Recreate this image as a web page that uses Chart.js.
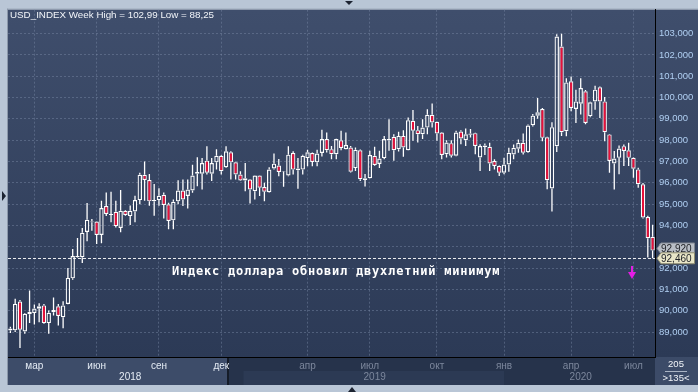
<!DOCTYPE html>
<html>
<head>
<meta charset="utf-8">
<script src="https://cdn.jsdelivr.net/npm/chart.js@4.4.1/dist/chart.umd.min.js"></script>
<style>
  html, body { margin: 0; padding: 0; background: #b9c6d6; }
  #wrap { width: 698px; height: 392px; }
</style>
</head>
<body>
<div id="wrap"><canvas id="chart" width="698" height="392"></canvas></div>
<script>
// USD_INDEX weekly candles
const opens = [
  89.07, 89.08, 90.43, 89.03, 89.84, 89.89, 90.09, 90.25, 89.42, 89.93,
  90.21, 89.70, 90.32, 91.52, 92.51, 92.51, 93.69, 94.18, 94.18, 93.55,
  94.91, 94.49, 94.64, 93.88, 94.69, 94.44, 94.66, 95.19, 96.38, 96.13,
  95.13, 95.19, 95.44, 94.99, 94.24, 95.13, 95.64, 95.38, 95.64, 96.43,
  96.43, 97.04, 96.43, 96.96, 97.27, 96.73, 97.43, 96.96, 96.39, 96.11,
  96.15, 95.61, 96.34, 95.80, 95.56, 96.67, 96.81, 96.53, 96.34, 97.40,
  96.59, 96.62, 97.16, 97.40, 96.96, 97.40, 98.05, 97.58, 97.34, 98.00,
  97.58, 97.66, 96.69, 97.53, 96.22, 96.22, 97.27, 96.88, 97.16, 97.98,
  98.16, 97.58, 98.20, 97.53, 98.91, 98.47, 98.28, 98.59, 99.19, 98.86,
  98.36, 97.34, 97.86, 97.27, 98.41, 98.00, 98.26, 98.33, 97.19, 97.75,
  97.69, 97.02, 96.79, 96.47, 96.86, 97.33, 97.60, 97.88, 97.44, 98.70,
  99.15, 99.46, 98.14, 95.73, 97.72, 102.39, 98.42, 100.76, 99.46, 99.71,
  100.29, 99.12, 99.82, 100.48, 99.82, 98.27, 96.91, 97.17, 97.72, 97.53,
  97.17, 96.63, 95.93, 94.40, 93.47
];
const highs = [
  89.25, 90.56, 90.50, 89.89, 90.95, 90.29, 90.35, 90.32, 90.01, 90.62,
  90.32, 90.45, 92.01, 92.90, 93.41, 93.88, 95.05, 94.30, 94.20, 95.16,
  95.55, 95.58, 95.16, 95.66, 94.72, 94.94, 95.39, 96.47, 97.00, 96.41,
  95.94, 95.74, 95.55, 95.07, 95.22, 96.12, 96.15, 96.15, 96.85, 97.20,
  97.16, 97.71, 97.16, 97.58, 97.30, 97.71, 97.48, 96.99, 96.54, 96.93,
  96.18, 96.36, 96.36, 96.00, 96.73, 97.37, 97.12, 96.56, 97.71, 97.48,
  97.16, 97.32, 97.55, 97.42, 97.55, 98.49, 98.36, 97.73, 98.07, 98.44,
  98.36, 97.73, 97.66, 97.56, 96.41, 97.50, 97.69, 97.50, 98.20, 98.98,
  98.28, 98.40, 98.47, 99.06, 99.41, 98.67, 98.98, 99.45, 99.72, 98.88,
  98.38, 98.00, 98.00, 98.44, 98.47, 98.55, 98.52, 98.35, 97.81, 97.84,
  97.88, 97.10, 96.81, 97.17, 97.64, 97.80, 98.03, 98.31, 98.73, 99.23,
  99.98, 99.51, 98.16, 98.84, 102.97, 102.99, 100.91, 100.99, 100.37, 100.91,
  100.35, 99.80, 100.55, 100.52, 100.02, 98.29, 97.49, 97.75, 97.80, 97.88,
  97.20, 96.71, 95.99, 94.45, 94.03
];
const lows = [
  88.95, 89.00, 88.25, 88.92, 89.43, 89.36, 89.46, 89.39, 88.92, 89.78,
  89.31, 89.18, 90.30, 91.45, 92.48, 92.24, 93.26, 93.75, 93.13, 93.16,
  94.44, 94.15, 93.91, 93.68, 94.46, 94.02, 94.15, 95.00, 95.16, 94.93,
  94.46, 94.93, 94.33, 93.82, 93.82, 94.99, 94.91, 94.79, 95.53, 95.84,
  95.69, 96.39, 96.08, 96.62, 96.39, 96.70, 96.15, 96.15, 96.08, 95.61,
  95.03, 95.22, 95.38, 95.14, 95.53, 96.62, 96.31, 95.81, 96.31, 96.39,
  95.72, 96.39, 96.78, 96.78, 96.78, 97.24, 97.42, 97.10, 97.10, 97.53,
  97.56, 96.48, 96.56, 96.09, 95.83, 96.20, 96.80, 96.69, 97.11, 97.50,
  97.03, 97.47, 97.22, 97.51, 97.97, 97.89, 98.05, 98.28, 98.59, 97.97,
  97.11, 97.19, 97.19, 97.25, 97.81, 97.73, 98.13, 97.34, 96.56, 97.30,
  96.55, 96.63, 96.32, 96.40, 96.52, 97.10, 97.41, 97.33, 97.41, 98.64,
  99.00, 97.95, 95.70, 94.66, 97.44, 98.20, 98.19, 99.36, 98.81, 99.20,
  98.75, 99.08, 99.43, 99.04, 97.95, 96.47, 95.69, 96.40, 96.79, 96.79,
  96.24, 95.77, 94.33, 92.50, 92.46
];
const closes = [
  89.17, 90.32, 89.11, 89.86, 89.95, 90.10, 90.21, 89.42, 89.90, 90.04,
  89.75, 90.25, 91.54, 92.57, 92.57, 93.66, 94.27, 94.15, 93.55, 94.82,
  94.54, 94.54, 93.97, 94.69, 94.49, 94.69, 95.19, 96.38, 96.13, 95.13,
  95.19, 95.39, 94.96, 94.21, 95.11, 95.64, 95.22, 95.69, 96.34, 96.51,
  96.93, 96.47, 96.93, 97.27, 96.54, 97.48, 96.96, 96.39, 96.11, 96.22,
  95.69, 96.34, 95.77, 95.58, 96.62, 96.90, 96.51, 96.55, 97.32, 96.62,
  96.67, 97.27, 97.43, 96.98, 97.37, 98.05, 97.53, 97.34, 98.05, 97.63,
  97.77, 96.52, 97.55, 96.17, 96.13, 97.30, 96.84, 97.14, 98.05, 98.05,
  97.53, 98.20, 97.66, 98.94, 98.44, 98.28, 98.59, 99.19, 98.83, 98.31,
  97.31, 97.89, 97.27, 98.36, 98.08, 98.28, 98.31, 97.73, 97.73, 97.68,
  96.91, 96.79, 96.47, 96.86, 97.41, 97.64, 97.88, 97.41, 98.69, 99.15,
  99.31, 98.11, 96.12, 98.61, 102.86, 98.37, 100.71, 99.51, 99.82, 100.45,
  98.81, 99.78, 100.37, 99.82, 98.37, 97.02, 97.14, 97.61, 97.49, 97.17,
  96.66, 95.93, 94.37, 93.40, 92.82
];

// x axis: month gridlines sit on these candles
const monthIndex = [5, 18, 31, 44, 62, 75, 89, 103, 117, 130];
const monthLabels = ['мар', 'июн', 'сен', 'дек', 'апр', 'июл', 'окт', 'янв', 'апр', 'июл'];
const yearIndex = [25, 76, 119];
const yearLabels = ['2018', '2019', '2020'];
const activeUntil = 46; // labels before this candle are bright

const lastPrice = 92.46;
const prevPrice = 92.92;
const titleText = 'USD_INDEX Week High = 102,99 Low = 88,25';
const noteText = 'Индекс доллара обновил двухлетний минимум';

const FONT = '"Liberation Sans", Arial, sans-serif';
const RED = '#e8103a';
const GRID = 'rgba(125, 140, 168, 0.45)';

// weekly category labels
const weeks = opens.map((_, i) => {
  const d = new Date(Date.UTC(2018, 0, 29 + i * 7));
  return d.toISOString().slice(0, 10);
});

const bodyLow = opens.map((o, i) => Math.min(o, closes[i]));
const bodyHigh = opens.map((o, i) => Math.max(o, closes[i]));

const fmt = v => v.toFixed(3).replace('.', ',');

const framePlugin = {
  id: 'frame',
  beforeDraw(chart) {
    const { ctx, chartArea: a, width, height } = chart;
    const x = chart.scales.x;
    ctx.save();
    ctx.fillStyle = '#b9c6d6';
    ctx.fillRect(0, 0, width, height);

    const g = ctx.createLinearGradient(0, a.top, 0, a.bottom);
    g.addColorStop(0, '#3f4e6c');
    g.addColorStop(1, '#2c3a56');
    ctx.fillStyle = g;
    ctx.fillRect(a.left, a.top, width - a.left, a.bottom - a.top);

    ctx.fillStyle = '#8c98aa';
    ctx.fillRect(a.left - 1, a.top - 1, width - a.left + 1, 1);
    ctx.fillRect(a.left - 1, a.top - 1, 1, 385 - a.top + 1);

    // time strip under the plot
    const split = (x.getPixelForValue(activeUntil - 1) + x.getPixelForValue(activeUntil)) / 2;
    const janX = x.getPixelForValue(monthIndex[7]);
    ctx.fillStyle = '#3d4c69';
    ctx.fillRect(a.left, a.bottom, split - a.left, 28);
    ctx.fillStyle = '#26334b';
    ctx.fillRect(split, a.bottom, a.right - split, 28);
    ctx.fillStyle = '#2c3a54';
    ctx.fillRect(split + 15, a.bottom + 14, janX - split - 15, 14);
    ctx.fillStyle = '#3c4b68';
    ctx.fillRect(a.right, a.bottom, width - a.right, 28);
    ctx.fillStyle = '#151c29';
    ctx.fillRect(Math.round(split) - 1, a.bottom, 2, 28);

    // little frame markers
    ctx.fillStyle = '#1c2331';
    ctx.beginPath();
    ctx.moveTo(345, 1); ctx.lineTo(353, 1); ctx.lineTo(349, 5); ctx.closePath(); ctx.fill();
    ctx.beginPath();
    ctx.moveTo(348, 392); ctx.lineTo(356, 392); ctx.lineTo(352, 387); ctx.closePath(); ctx.fill();
    ctx.beginPath();
    ctx.moveTo(2, 191); ctx.lineTo(6, 196); ctx.lineTo(2, 201); ctx.closePath(); ctx.fill();
    ctx.restore();
  },
  afterDatasetsDraw(chart) {
    const { ctx, chartArea: a } = chart;
    const x = chart.scales.x, y = chart.scales.y;
    ctx.save();
    // last price line
    const py = Math.round(y.getPixelForValue(lastPrice)) + 0.5;
    ctx.strokeStyle = 'rgba(255,255,255,0.9)';
    ctx.lineWidth = 1;
    ctx.setLineDash([3, 2]);
    ctx.beginPath();
    ctx.moveTo(a.left, py);
    ctx.lineTo(a.right, py);
    ctx.stroke();
    ctx.setLineDash([]);

    // note
    ctx.font = 'bold 12px "DejaVu Sans Mono", monospace';
    ctx.fillStyle = '#ffffff';
    ctx.textBaseline = 'middle';
    const w = ctx.measureText(noteText).width;
    ctx.letterSpacing = ((328 - w) / noteText.length).toFixed(2) + 'px';
    ctx.fillText(noteText, 172, 272);
    ctx.letterSpacing = '0px';

    // magenta arrow
    const ax = Math.round(x.getPixelForValue(monthIndex[9])) - 1;
    ctx.fillStyle = '#e41ee4';
    ctx.fillRect(ax - 1, 266, 2, 8);
    ctx.beginPath();
    ctx.moveTo(ax - 4, 272); ctx.lineTo(ax + 4, 272); ctx.lineTo(ax, 279); ctx.closePath();
    ctx.fill();
    ctx.restore();
  },
  afterDraw(chart) {
    const { ctx, chartArea: a } = chart;
    const x = chart.scales.x, y = chart.scales.y;
    ctx.save();
    // title
    ctx.font = '9.8px ' + FONT;
    ctx.fillStyle = '#f2f5f9';
    ctx.textBaseline = 'middle';
    ctx.textAlign = 'left';
    ctx.fillText(titleText, 10, 15);

    // year row
    ctx.font = '10px ' + FONT;
    ctx.textAlign = 'center';
    yearLabels.forEach((t, i) => {
      ctx.fillStyle = yearIndex[i] < activeUntil ? '#e4ebf4' : '#7c879c';
      ctx.fillText(t, x.getPixelForValue(yearIndex[i]), a.bottom + 20);
    });

    // bar counter box
    ctx.fillStyle = '#f2f5f9';
    ctx.font = '9.5px ' + FONT;
    ctx.fillText('205', 676, a.bottom + 7);
    ctx.fillText('>135<', 676, a.bottom + 21);
    ctx.fillStyle = '#aab4c4';
    ctx.fillRect(665, a.bottom + 14, 22, 1);

    // price tags on the axis
    const tag = (val, bg, border) => {
      const ty = y.getPixelForValue(val);
      ctx.fillStyle = bg;
      ctx.strokeStyle = border;
      ctx.lineWidth = 1;
      ctx.beginPath();
      ctx.moveTo(657, ty);
      ctx.lineTo(661, ty - 5.5);
      ctx.lineTo(694.5, ty - 5.5);
      ctx.lineTo(694.5, ty + 5.5);
      ctx.lineTo(661, ty + 5.5);
      ctx.closePath();
      ctx.fill();
      ctx.stroke();
      ctx.fillStyle = '#1d1f24';
      ctx.font = '10px ' + FONT;
      ctx.textAlign = 'left';
      ctx.fillText(fmt(val), 661, ty + 0.5);
    };
    tag(prevPrice, '#b9bec6', '#7d848f');
    tag(lastPrice, '#e9e6c8', '#8f8c70');
    ctx.restore();
  }
};

const ctx = document.getElementById('chart').getContext('2d');
new Chart(ctx, {
  type: 'bar',
  data: {
    labels: weeks,
    datasets: [
      {
        label: 'lower wick',
        data: lows.map((l, i) => [l, bodyLow[i]]),
        backgroundColor: '#ffffff',
        borderWidth: 0,
        barThickness: 1.3,
        grouped: false,
        inflateAmount: 0
      },
      {
        label: 'upper wick',
        data: highs.map((h, i) => [bodyHigh[i], h]),
        backgroundColor: '#ffffff',
        borderWidth: 0,
        barThickness: 1.3,
        grouped: false,
        inflateAmount: 0
      },
      {
        label: 'body',
        data: bodyLow.map((b, i) => [b, bodyHigh[i]]),
        backgroundColor: c => closes[c.dataIndex] < opens[c.dataIndex] ? RED : 'rgba(0,0,0,0)',
        borderColor: '#ffffff',
        borderWidth: 1.2,
        borderSkipped: false,
        barThickness: 4.4,
        grouped: false,
        inflateAmount: 0
      }
    ]
  },
  options: {
    responsive: false,
    animation: false,
    devicePixelRatio: 1,
    layout: { padding: { left: 8, top: 8, right: 0, bottom: 7 } },
    plugins: {
      legend: { display: false },
      tooltip: { enabled: false }
    },
    scales: {
      x: {
        type: 'category',
        offset: true,
        grid: {
          offset: false,
          drawTicks: false,
          color: c => monthIndex.includes(c.index) ? GRID : 'rgba(0,0,0,0)'
        },
        border: { color: '#000000', width: 1, dash: [2, 2] },
        ticks: {
          autoSkip: false,
          maxRotation: 0,
          minRotation: 0,
          padding: 3,
          font: { size: 10, family: FONT },
          color: c => c.index < activeUntil ? '#e4ebf4' : '#7c879c',
          callback: (v, i) => {
            const k = monthIndex.indexOf(i);
            return k >= 0 ? monthLabels[k] : '';
          }
        },
        afterFit: s => { s.height = 28; }
      },
      y: {
        position: 'right',
        min: 87.83,
        max: 104.12,
        grid: {
          drawTicks: false,
          color: c => (c.tick && c.tick.value >= 89 && c.tick.value <= 103) ? GRID : 'rgba(0,0,0,0)'
        },
        border: { color: '#000000', width: 1, dash: [2, 2] },
        ticks: {
          stepSize: 1,
          includeBounds: false,
          padding: 4,
          color: '#b0cff2',
          font: { size: 9.5, family: FONT },
          callback: v => (v >= 89 && v <= 103) ? fmt(v) : ''
        },
        afterFit: s => { s.width = 43; }
      }
    }
  },
  plugins: [framePlugin]
});
</script>
</body>
</html>
